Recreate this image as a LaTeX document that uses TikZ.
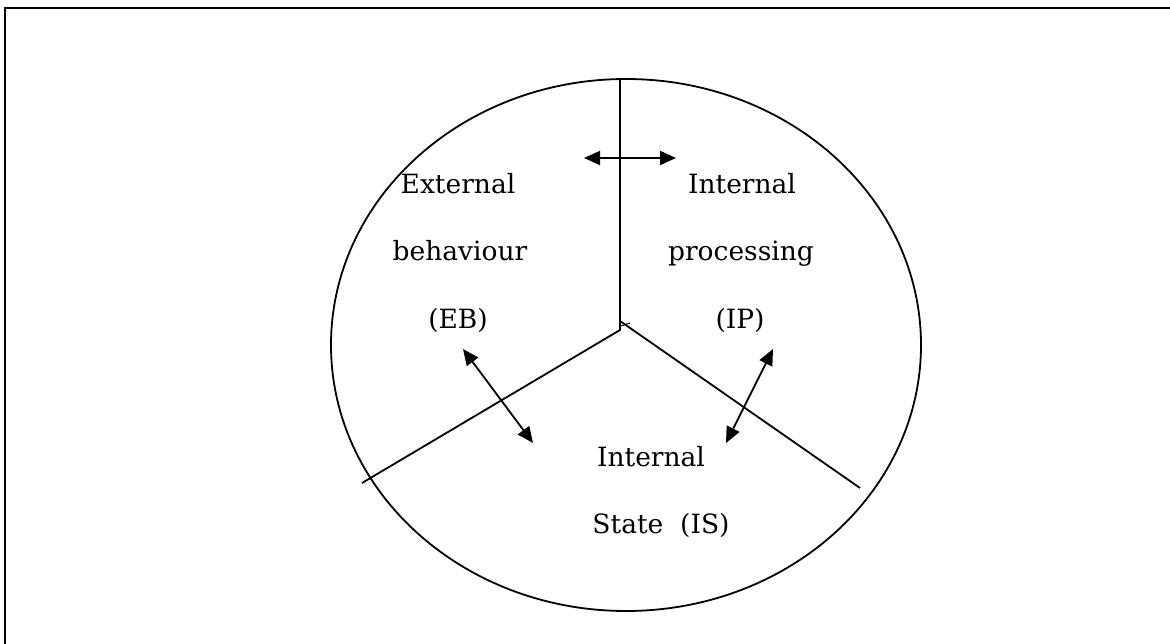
\documentclass[tikz,border=0pt]{standalone}
\usepackage{fontspec}
\setmainfont{DejaVu Serif}
\usetikzlibrary{arrows.meta}
\begin{document}
\begin{tikzpicture}[x=1pt,y=-1pt,
  rule/.style={line width=1.8pt},
  dblarrow/.style={line width=1.8pt,{Triangle[length=16pt,width=14pt]}-{Triangle[length=16pt,width=14pt]}},
  label/.style={font=\fontsize{26.5}{26.5}\selectfont,inner sep=0pt,anchor=base}]
\useasboundingbox (0,0) rectangle (1170,644);
% frame (only top and left edges fall inside the page)
\draw[line width=2pt] (4.5,700) -- (4.5,8.5) -- (1200,8.5);
% the circle
\coordinate (c) at (626,345);
\draw[rule] (c) ellipse [x radius=295, y radius=266];
% the three dividing lines
\coordinate (top) at (620,79);
\coordinate (hub) at (620,330);
\coordinate (hubr) at (620,321);
\coordinate (endl) at (362,483);
\coordinate (endr) at (860,488);
\draw[rule] (top) -- (hub) -- (endl);
\draw[rule] (hubr) -- (endr);
\draw[line width=1pt] (621,326) -- (630,323);
% labels
\node[label] (ext) at (458,194) {External};
\node[label] (beh) at (460,261) {behaviour};
\node[label] (eb)  at (458,328) {(EB)};
\node[label] (int1) at (742,194) {Internal};
\node[label] (proc) at (741,261) {processing};
\node[label] (ip)  at (740,328) {(IP)};
\node[label] (int2) at (651,466) {Internal};
\node[label] (st)  at (661,533) {State\ \ (IS)};
% arrows between the parts
\coordinate (h1) at (584,158);
\coordinate (h2) at (676,158);
\draw[dblarrow] (h1) -- (h2);
\coordinate (a1) at (463,349);
\coordinate (a2) at (533,443);
\draw[dblarrow] (a1) -- (a2);
\coordinate (b1) at (773,349);
\coordinate (b2) at (726,443);
\draw[dblarrow] (b1) -- (b2);
\end{tikzpicture}
\end{document}
